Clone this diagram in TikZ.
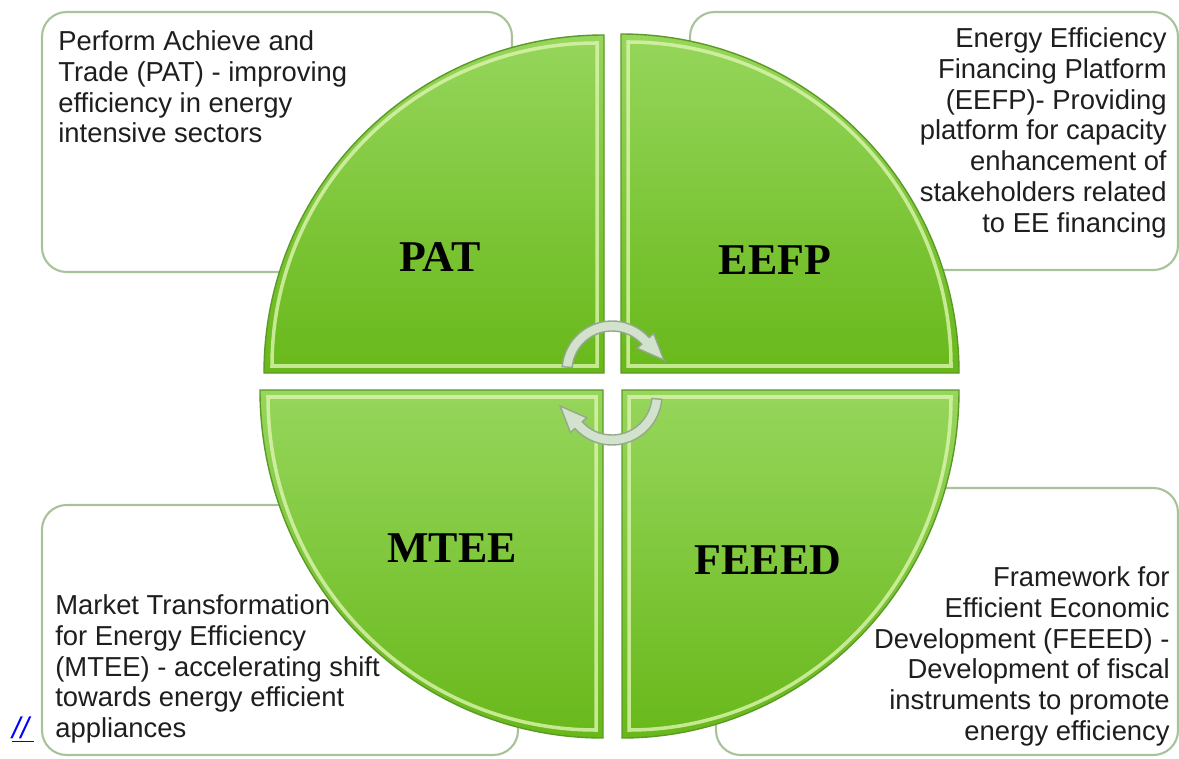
\documentclass[tikz,border=0pt]{standalone}
\usepackage{fontspec}
\setmainfont{Liberation Sans}
\newfontfamily\quadfont{Liberation Serif}
\definecolor{quadtop}{HTML}{96D65C}
\definecolor{quadbot}{HTML}{68B81A}
\definecolor{quadedge}{HTML}{5C9A25}
\definecolor{bevellight}{HTML}{DDF5B0}
\definecolor{boxedge}{HTML}{A8C39A}
\definecolor{txtgray}{HTML}{1E1E1E}
\definecolor{arrowfill}{HTML}{D3E2CC}
\definecolor{arrowedge}{HTML}{93A88C}
\tikzset{
	infobox/.style={draw=boxedge, line width=1.2pt, rounded corners=14pt, fill=white},
	infotext/.style={inner sep=0pt, font=\fontsize{15.6}{17.6}\selectfont, text=txtgray},
	quadlabel/.style={font=\quadfont\bfseries\fontsize{25}{25}\selectfont},
	quadfill/.style={draw=quadedge, line width=0.8pt, top color=quadtop, bottom color=quadbot},
	bevel/.style={draw=bevellight, line width=2pt, opacity=0.8},
	cyclearrow/.style={draw=arrowedge, fill=arrowfill, line width=0.8pt}
}
\begin{document}
\begin{tikzpicture}[x=0.02cm, y=0.02cm]
	\path[use as bounding box, fill=white] (0,0) rectangle (1179,758);
	% boxes behind the circle
	\path[infobox] (42,486) rectangle (512,746);
	\path[infobox] (690,488) rectangle (1178,746);
	\path[infobox] (42,3) rectangle (518,253);
	\path[infobox] (716,3) rectangle (1178,270);
	% quarters
	\path[quadfill] (604,385) -- (264,385) arc[start angle=180, end angle=90, x radius=340, y radius=338] -- cycle;
	\path[bevel] (597,392) -- (272,392) arc[start angle=180, end angle=90, x radius=325, y radius=323] -- cycle;
	\path[quadfill] (621,385) -- (621,724) arc[start angle=90, end angle=0, x radius=338, y radius=339] -- cycle;
	\path[bevel] (628,392) -- (628,716) arc[start angle=90, end angle=0, x radius=323, y radius=324] -- cycle;
	\path[quadfill] (603,368) -- (603,20) arc[start angle=270, end angle=180, x radius=343, y radius=348] -- cycle;
	\path[bevel] (596,361) -- (596,28) arc[start angle=270, end angle=180, x radius=328, y radius=333] -- cycle;
	\path[quadfill] (622,368) -- (959,368) arc[start angle=0, end angle=-90, x radius=337, y radius=348] -- cycle;
	\path[bevel] (629,361) -- (951,361) arc[start angle=0, end angle=-90, x radius=322, y radius=333] -- cycle;
	% cycle arrows
	\foreach \r in {0,180}{
		\begin{scope}[shift={(612,375)}, rotate=\r, shift={(0,12)}]
			\filldraw[cyclearrow] (175:50) arc[start angle=175, end angle=42, radius=50] -- (42:56) -- (12:53)
				-- (42:34) -- (42:40) arc[start angle=42, end angle=175, radius=40] -- cycle;
		\end{scope}
	}
	\node[quadlabel] (pat) at (440,501) {PAT};
	\node[quadlabel] (eefp) at (775,498) {EEFP};
	\node[quadlabel] (mtee) at (452,210) {MTEE};
	\node[quadlabel] (feeed) at (768,198) {FEEED};
	\node[infotext, anchor=north west, align=left] (pattext) at (58,728)
		{Perform Achieve and\\Trade (PAT) - improving\\efficiency in energy\\intensive sectors};
	\node[infotext, anchor=north east, align=right] (eefptext) at (1167,731)
		{Energy Efficiency\\Financing Platform\\(EEFP)- Providing\\platform for capacity\\enhancement of\\stakeholders related\\to EE financing};
	\node[infotext, anchor=north west, align=left] (mteetext) at (55,164)
		{Market Transformation\\for Energy Efficiency\\(MTEE) - accelerating shift\\towards energy efficient\\appliances};
	\node[infotext, anchor=north east, align=right] (feeedtext) at (1170,192)
		{Framework for\\Efficient Economic\\Development (FEEED) -\\Development of fiscal\\instruments to promote\\energy efficiency};
	\node[text=blue, font=\itshape\fontsize{17}{17}\selectfont] (lnk) at (23,28) {\underline{//\,}};
%
\end{tikzpicture}
\end{document}
